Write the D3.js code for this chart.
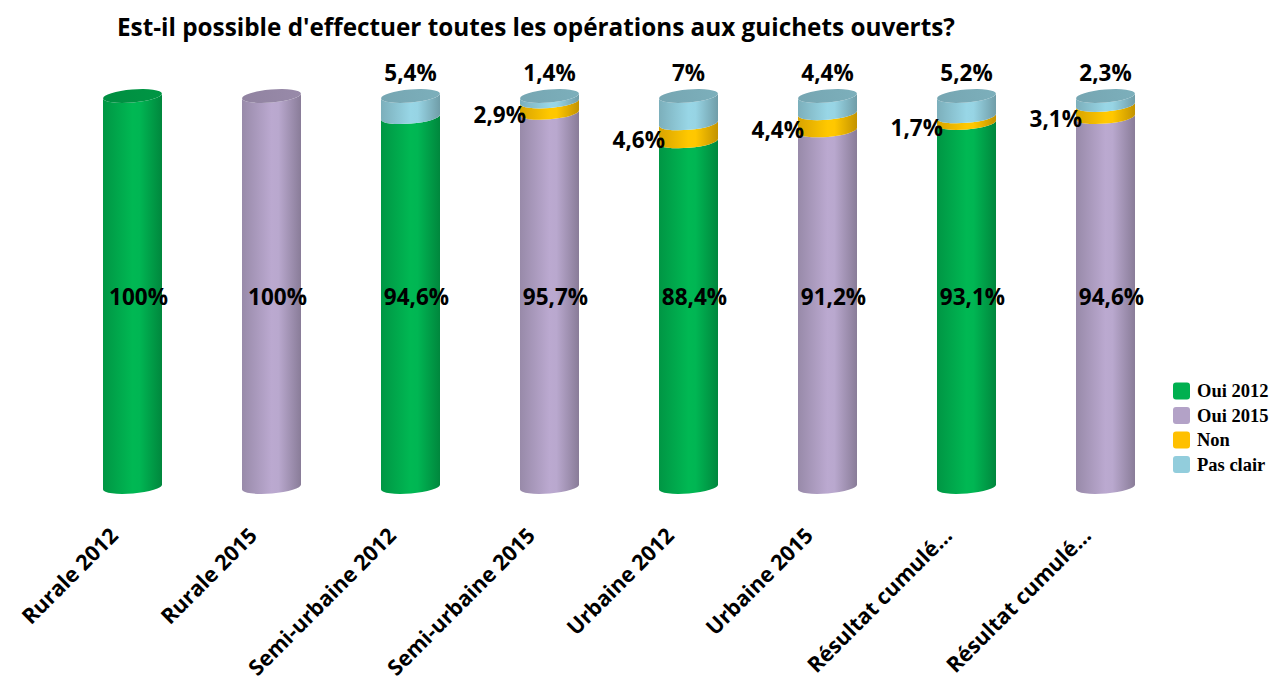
<!DOCTYPE html>
<html>
<head>
<meta charset="utf-8">
<script src="https://cdn.jsdelivr.net/npm/d3@7.9.0/dist/d3.min.js"></script>
<style>
  body { margin: 0; background: #fff; }
  text { font-family: "Open Sans", sans-serif; font-weight: 700; fill: #000; }
  .legend text { font-family: "Liberation Serif", serif; }
</style>
</head>
<body>
<div id="chart"></div>
<script>
const width = 1274;
const height = 684;

const title = "Est-il possible d'effectuer toutes les opérations aux guichets ouverts?";
const categories = ["Rurale 2012", "Rurale 2015", "Semi-urbaine 2012", "Semi-urbaine 2015",
  "Urbaine 2012", "Urbaine 2015", "Résultat cumulé…", "Résultat cumulé…"];
const years = [2012, 2015, 2012, 2015, 2012, 2015, 2012, 2015];
const oui = [100, 100, 94.6, 95.7, 88.4, 91.2, 93.1, 94.6];
const non = [0, 0, 0, 2.9, 4.6, 4.4, 1.7, 3.1];
const pasClair = [0, 0, 5.4, 1.4, 7, 4.4, 5.2, 2.3];
const seriesNames = ["Oui 2012", "Oui 2015", "Non", "Pas clair"];
const seriesColors = ["#00B050", "#B3A2C7", "#FFC000", "#92CDDC"];

const color = d3.scaleOrdinal().domain(seriesNames).range(seriesColors);
const fmt = v => String(v).replace(".", ",") + "%";

const svg = d3.select("#chart").append("svg")
  .attr("width", width)
  .attr("height", height);

const x = d3.scalePoint()
  .domain(d3.range(categories.length))
  .range([132.5, 1105.5]);

const y = d3.scaleLinear()
  .domain([0, 100])
  .range([487, 96]);

const r = 29.5;   // cylinder radius
const ry = 6.5;   // ellipse half height
const tilt = 2.5; // left side lower than right side
const rot = Math.atan2(-2 * tilt, 2 * r) * 180 / Math.PI;

// gradients
const defs = svg.append("defs");
seriesNames.forEach((name, i) => {
  const c = d3.color(seriesColors[i]);
  const g = defs.append("linearGradient").attr("id", "body" + i)
    .attr("x1", 0).attr("x2", 1).attr("y1", 0).attr("y2", 0);
  g.append("stop").attr("offset", "0%").attr("stop-color", c.darker(0.45));
  g.append("stop").attr("offset", "50%").attr("stop-color", c.brighter(0.12));
  g.append("stop").attr("offset", "62%").attr("stop-color", c.brighter(0.1));
  g.append("stop").attr("offset", "100%").attr("stop-color", c.darker(0.75));
  const t = defs.append("linearGradient").attr("id", "top" + i)
    .attr("x1", 0).attr("x2", 1).attr("y1", 0).attr("y2", 0);
  t.append("stop").attr("offset", "0%").attr("stop-color", c.darker(0.6));
  t.append("stop").attr("offset", "100%").attr("stop-color", c.darker(0.45));
});

// title, sized to the width it has in the original
const titleText = svg.append("text")
  .attr("x", 117)
  .attr("y", 36)
  .style("font-size", "22px")
  .text(title);
const tw = titleText.node().getComputedTextLength();
titleText.style("font-size", (22 * 838 / tw).toFixed(2) + "px");

// stacked segments per bar
const bars = categories.map((c, i) => {
  const ouiName = years[i] === 2012 ? "Oui 2012" : "Oui 2015";
  const parts = [
    { name: ouiName, v: oui[i] },
    { name: "Non", v: non[i] },
    { name: "Pas clair", v: pasClair[i] }
  ];
  let acc = 0;
  parts.forEach(p => { p.y0 = acc; acc += p.v; p.y1 = acc; p.i = i; });
  return parts.filter(p => p.v > 0);
});

function segPath(cx, v0, v1) {
  const yb = y(v0), yt = y(v1);
  return `M${cx - r},${yt + tilt} L${cx - r},${yb + tilt}` +
    ` A${r},${ry} ${rot} 0 0 ${cx + r},${yb - tilt}` +
    ` L${cx + r},${yt - tilt}` +
    ` A${r},${ry} ${rot} 0 1 ${cx - r},${yt + tilt} Z`;
}

const barG = svg.append("g");
bars.forEach((parts, i) => {
  const cx = x(i);
  const g = barG.append("g");
  g.selectAll("path.seg")
    .data(parts)
    .join("path")
    .attr("class", "seg")
    .attr("d", p => segPath(cx, p.y0, p.y1))
    .attr("fill", p => `url(#body${seriesNames.indexOf(p.name)})`);
  const topPart = parts[parts.length - 1];
  g.append("ellipse")
    .attr("cx", cx)
    .attr("cy", y(topPart.y1))
    .attr("rx", r)
    .attr("ry", ry)
    .attr("transform", `rotate(${rot},${cx},${y(topPart.y1)})`)
    .attr("fill", `url(#top${seriesNames.indexOf(topPart.name)})`);
});

// labels
const labelSize = "22.5px";
svg.append("g").selectAll("text")
  .data(oui)
  .join("text")
  .attr("x", (d, i) => x(i) + 6)
  .attr("y", y(50) + 13)
  .attr("text-anchor", "middle")
  .style("font-size", labelSize)
  .text(d => fmt(d));

svg.append("g").selectAll("text")
  .data(non.map((v, i) => ({ v, i })).filter(d => d.v > 0))
  .join("text")
  .attr("x", d => x(d.i) - r + 6)
  .attr("y", d => y(oui[d.i] + d.v / 2) + 16)
  .attr("text-anchor", "end")
  .style("font-size", labelSize)
  .text(d => fmt(d.v));

svg.append("g").selectAll("text")
  .data(pasClair.map((v, i) => ({ v, i })).filter(d => d.v > 0))
  .join("text")
  .attr("x", d => x(d.i))
  .attr("y", y(100) - 15)
  .attr("text-anchor", "middle")
  .style("font-size", labelSize)
  .text(d => fmt(d.v));

// category labels, size fitted so the longest one stays inside the picture
const catLabels = svg.append("g").selectAll("text")
  .data(categories)
  .join("text")
  .attr("transform", (d, i) => `translate(${x(i) - 13},537) rotate(-45)`)
  .attr("text-anchor", "end")
  .style("font-size", "22px")
  .text(d => d);
const cw = d3.max(catLabels.nodes(), n => n.getComputedTextLength());
catLabels.style("font-size", (22 * 198 / cw).toFixed(2) + "px");

// legend
const legend = svg.append("g").attr("class", "legend");
const rowY = d3.scalePoint().domain(seriesNames).range([391, 464.5]);
legend.selectAll("rect")
  .data(seriesNames)
  .join("rect")
  .attr("x", 1173)
  .attr("y", d => rowY(d) - 8.5)
  .attr("width", 17)
  .attr("height", 17)
  .attr("rx", 3)
  .attr("fill", d => color(d));
legend.selectAll("text")
  .data(seriesNames)
  .join("text")
  .attr("x", 1197)
  .attr("y", d => rowY(d) + 6)
  .style("font-size", "18.5px")
  .text(d => d);
</script>
</body>
</html>
